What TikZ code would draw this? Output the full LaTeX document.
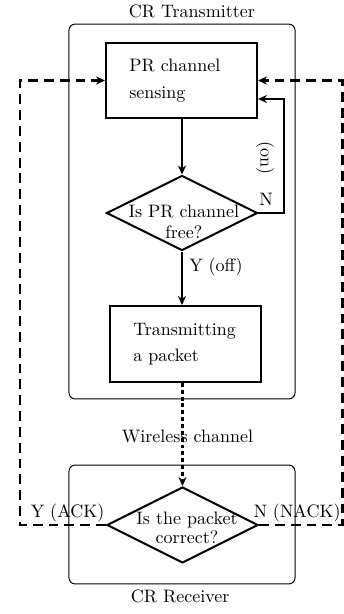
\documentclass[tikz,border=0pt]{standalone}
\usetikzlibrary{shapes.geometric,arrows.meta}
\begin{document}
\begin{tikzpicture}[x=0.5556pt,y=-0.5556pt,
  tip/.style={-{Stealth[length=5pt,width=4.5pt]}},
  flow/.style={line width=1.1pt,tip},
  dashflow/.style={line width=1.2pt,dash pattern=on 5.5pt off 3.3pt,tip},
  dotflow/.style={line width=1.2pt,dash pattern=on 2.2pt off 1.6pt,tip},
  group/.style={draw,line width=0.55pt,rounded corners=3.5pt,inner sep=0pt},
  stepbox/.style={draw,line width=1.1pt,text width=58pt,align=left,inner xsep=12.8pt,minimum width=83.9pt,minimum height=41.7pt},
  decision/.style={draw,diamond,line width=1.1pt,inner sep=0pt,minimum width=83.9pt,minimum height=41.7pt}
]
\useasboundingbox (0,0) rectangle (344,614);
\node[group,minimum width=125.6pt,minimum height=208.3pt,label={[inner sep=3pt,xshift=5.5pt]above:CR Transmitter}] (tx) at (182,211.5) {};
\node[group,minimum width=125.6pt,minimum height=66.1pt,label={[inner sep=3pt,xshift=-1pt]below:CR Receiver}] (rx) at (182,524.5) {};
\node[stepbox] (b1) at (181.5,80.5) {PR channel\\[3pt]sensing};
\node[decision,label={[align=center,yshift=-5pt,xshift=1pt]center:Is PR channel\\free?}] (d1) at (182,213) {};
\node[stepbox,minimum height=42.2pt] (b2) at (185.5,344) {Transmitting\\[2.5pt]a packet};
\node[decision,minimum height=42.2pt,label={[align=center,yshift=-1.5pt,xshift=2.5pt]center:Is the packet\\[-1.5pt]correct?}] (d2) at (182.5,525) {};
\coordinate (nloop) at (284,99);
\coordinate (lc) at (20,0);
\coordinate (rc) at (342.5,0);
\draw[flow] (b1.south -| d1.north) -- (d1.north);
\draw[flow] (d1.east) -| (nloop) -- (nloop -| b1.east);
\node (nlab) at (266,199) {N};
\node[rotate=-90] (onlab) at (265,158) {(on)};
\draw[flow] (d1.south) -- (b2.north -| d1.south);
\node (ylab) at (216,267) {Y (off)};
\draw[dotflow] (b2.south -| d2.north) -- (d2.north);
\node (wlab) at (187.5,436) {Wireless channel};
\draw[dashflow] (d2.west) -| (b1.west -| lc) -- (b1.west);
\draw[dashflow] (d2.east) -| (b1.east -| rc) -- (b1.east);
\node (acklab) at (67.5,513) {Y (ACK)};
\node (nacklab) at (297,513) {N (NACK)};
\end{tikzpicture}
\end{document}
